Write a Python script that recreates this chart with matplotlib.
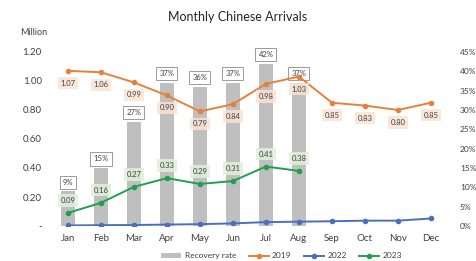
import matplotlib.pyplot as plt
from matplotlib.ticker import FuncFormatter

plt.rcParams['font.family'] = ['Lato', 'DejaVu Sans']

months = ['Jan', 'Feb', 'Mar', 'Apr', 'May', 'Jun', 'Jul', 'Aug', 'Sep', 'Oct', 'Nov', 'Dec']
arr_2019 = [1.07, 1.06, 0.99, 0.90, 0.79, 0.84, 0.98, 1.03, 0.85, 0.83, 0.80, 0.85]
arr_2022 = [0.004, 0.006, 0.007, 0.010, 0.013, 0.018, 0.027, 0.030, 0.033, 0.037, 0.037, 0.052]
arr_2023 = [0.09, 0.16, 0.27, 0.33, 0.29, 0.31, 0.41, 0.38]
recovery = [9, 15, 27, 37, 36, 37, 42, 37]

c2019 = '#E8803A'
c2022 = '#4A6FC0'
c2023 = '#1FA04E'
cbar = '#BFBFBF'

fig = plt.figure(figsize=(4.76, 2.61), dpi=100)
ax = fig.add_axes([0.108, 0.134, 0.832, 0.667])
ax2 = ax.twinx()

x = list(range(12))
xb = x[:len(recovery)]

ax2.bar(xb, recovery, width=0.4, color=cbar, zorder=1, label='Recovery rate')
ax2.set_ylim(0, 45)
ax2.set_yticks(range(0, 50, 5))
ax2.yaxis.set_major_formatter(FuncFormatter(lambda v, p: f'{v:.0f}%'))

ax.set_zorder(ax2.get_zorder() + 1)
ax.patch.set_visible(False)

ax.axhline(0, color='#D9D9D9', lw=0.8, zorder=0)
l1, = ax.plot(x, arr_2019, color=c2019, lw=1.4, marker='o', ms=3, label='2019')
l2, = ax.plot(x, arr_2022, color=c2022, lw=1.4, marker='o', ms=3, label='2022')
l3, = ax.plot(x[:len(arr_2023)], arr_2023, color=c2023, lw=1.4, marker='o', ms=3, label='2023')

ax.set_ylim(0, 1.2)
ax.set_xlim(-0.5, 11.5)
ax.set_yticks([0, 0.2, 0.4, 0.6, 0.8, 1.0, 1.2])
ax.yaxis.set_major_formatter(FuncFormatter(lambda v, p: '-' if v == 0 else f'{v:.2f}'))
ax.set_xticks(x)
ax.set_xticklabels(months)

for a in (ax, ax2):
    for s in a.spines.values():
        s.set_visible(False)
    a.tick_params(length=0, colors='#404040')
ax.tick_params(axis='y', labelsize=7, pad=7)
ax.tick_params(axis='x', labelsize=7, pad=6)
ax2.tick_params(axis='y', labelsize=6, pad=9)

# data labels
for i, v in enumerate(arr_2019):
    ax.annotate(f'{v:.2f}', (i, v), xytext=(0, -9), textcoords='offset points',
                ha='center', va='center', fontsize=5.5, color='#404040',
                bbox=dict(boxstyle='square,pad=0.35', fc='#FBE3D3', ec='none', alpha=0.85))
for i, v in enumerate(arr_2023):
    ax.annotate(f'{v:.2f}', (i, v), xytext=(0, 9), textcoords='offset points',
                ha='center', va='center', fontsize=5.5, color='#404040',
                bbox=dict(boxstyle='square,pad=0.35', fc='#E0F0DA', ec='none', alpha=0.85))
for i, v in enumerate(recovery):
    ax2.annotate(f'{v}%', (i, v), xytext=(0, 6.5), textcoords='offset points',
                 ha='center', va='center', fontsize=5.5, color='#404040', zorder=5,
                 bbox=dict(boxstyle='square,pad=0.4', fc='white', ec='#8C8C8C', lw=0.6))

fig.text(0.5, 0.935, 'Monthly Chinese Arrivals', ha='center', va='center', fontsize=9, color='#262626')
fig.text(0.042, 0.875, 'Million', ha='left', va='center', fontsize=6.5, color='#404040')

handles = [ax2.patches[0], l1, l2, l3]
fig.legend(handles, ['Recovery rate', '2019', '2022', '2023'], loc='center',
           bbox_to_anchor=(0.592, 0.02), ncol=4, frameon=False, fontsize=6,
           handlelength=2.4, handleheight=0.5, columnspacing=1.5, handletextpad=0.4,
           labelcolor='#404040')

fig.savefig('out.png', dpi=100)
